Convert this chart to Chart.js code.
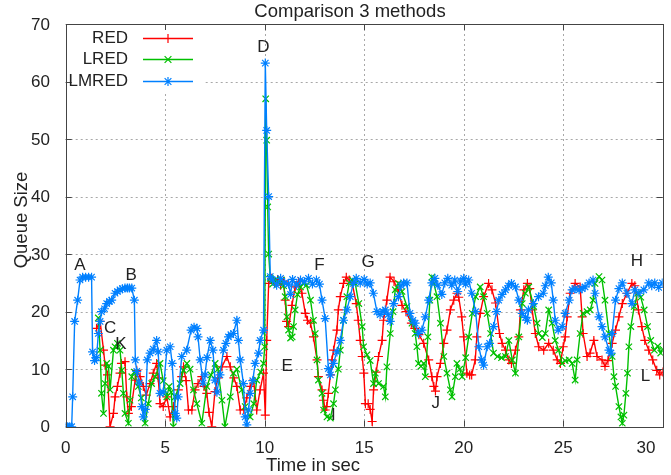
<!DOCTYPE html>
<html>
<head>
<meta charset="utf-8">
<title>Comparison 3 methods</title>
<script src="https://cdn.jsdelivr.net/npm/chart.js@4/dist/chart.umd.min.js"></script>
<style>
  html, body { margin: 0; padding: 0; background: #fff; }
  #wrap { width: 671px; height: 475px; }
</style>
</head>
<body>
<div id="wrap"><canvas id="queueChart" width="671" height="475"></canvas></div>
<script>
// axis ticks
const xTicks = [0, 5, 10, 15, 20, 25, 30];
const yTicks = [0, 10, 20, 30, 40, 50, 60, 70];

// RED
const redTime = [
  1.55, 1.73, 1.9, 1.98, 2.1, 2.23, 2.4, 2.48, 2.6, 2.73,
  2.8, 2.98, 3.07, 3.15, 3.3, 3.49, 3.57, 3.74, 3.9, 4.05,
  4.24, 4.4, 4.57, 4.65, 4.74, 4.9, 5.08, 5.25, 5.41, 5.66,
  5.83, 5.92, 6.05, 6.17, 6.34, 6.5, 6.65, 6.84, 6.95, 7.09,
  7.2, 7.34, 7.5, 7.65, 7.85, 8.1, 8.27, 8.45, 8.6, 8.77,
  8.95, 9.1, 9.27, 9.44, 9.6, 9.77, 9.94, 10.03, 10.1, 10.2,
  10.35, 10.5, 10.65, 10.8, 10.95, 11.03, 11.1, 11.2, 11.37, 11.53,
  11.7, 11.87, 12.04, 12.15, 12.3, 12.45, 12.63, 12.7, 12.88, 12.96,
  13.04, 13.12, 13.2, 13.3, 13.38, 13.46, 13.63, 13.7, 13.8, 13.96,
  14.1, 14.25, 14.4, 14.6, 14.7, 14.8, 14.9, 14.98, 15.06, 15.2,
  15.3, 15.4, 15.47, 15.6, 15.72, 15.9, 15.97, 16.14, 16.3, 16.5,
  16.7, 16.9, 17.1, 17.37, 17.54, 17.75, 17.99, 18.24, 18.4, 18.5,
  18.58, 18.66, 18.83, 19.0, 19.16, 19.33, 19.5, 19.66, 19.75, 19.9,
  20.0, 20.16, 20.3, 20.4, 20.58, 20.66, 20.83, 21.0, 21.25, 21.42,
  21.6, 21.8, 21.93, 22.1, 22.27, 22.4, 22.6, 22.77, 22.85, 23.02,
  23.2, 23.32, 23.44, 23.6, 23.77, 24.02, 24.27, 24.5, 24.7, 24.86,
  25.0, 25.1, 25.2, 25.35, 25.6, 25.85, 25.95, 26.0, 26.2, 26.35,
  26.54, 26.7, 26.95, 27.1, 27.25, 27.46, 27.63, 27.8, 27.97, 28.2,
  28.45, 28.6, 28.78, 28.95, 29.1, 29.3, 29.5, 29.7, 29.85, 30.0
];
const redQueue = [
  17.1, 18.3, 13.3, 10.7, 9, 0, 2.3, 5.2, 7, 9.3,
  11, 11.3, 5.2, 2.3, 3.5, 8.1, 9.8, 8.7, 7, 5.5,
  7.5, 9.3, 11, 8.5, 4, 3.5, 5.2, 1.7, 3.5, 6.4,
  8.7, 10.4, 8, 2.9, 2.9, 6.4, 7.5, 8.7, 7, 5.8,
  2.5, 0, 6.1, 8.5, 10.4, 12.2, 10.4, 8.5, 7, 2.9,
  3, 5, 7, 8.1, 2.9, 6.4, 9.3, 2, 15, 24.9,
  25.8, 25, 25.6, 24.6, 25.3, 22, 18.3, 17.4, 21.1, 24.3,
  25.2, 23.2, 19.7, 18.5, 18, 15.6, 11.6, 8.7, 6.4, 4.6,
  2.9, 3.5, 5.8, 9, 11.6, 13.3, 16.8, 20.3, 22.6, 24.9,
  26, 25.5, 24.9, 21.4, 18.5, 15, 12.2, 9.3, 4, 4,
  3, 0.9, 6.4, 9.5, 12.2, 15, 18.5, 22, 26, 25.2,
  23.8, 21.1, 20, 18, 17.1, 16, 14.5, 11.6, 8.7, 7,
  6.2, 8.7, 11, 14.5, 16.8, 20.3, 22, 23.2, 22.5, 19.1,
  15.6, 9.3, 9, 9, 11.6, 15.6, 19.7, 22.6, 24.9, 23.8,
  21.5, 16.2, 14.5, 13.3, 11.6, 11, 13.3, 15.6, 20.3, 23.8,
  24.9, 24, 20.3, 16.2, 13.9, 13.3, 14.5, 13.3, 11.6, 11,
  13.9, 15.6, 19.1, 23.2, 24.9, 24.3, 19.1, 16.2, 12.2, 12.8,
  15, 12.2, 11.6, 10.5, 11.5, 14.5, 16.8, 19.1, 21.4, 23.2,
  24.9, 24.5, 20.3, 17.4, 15, 13.3, 11.6, 9.8, 9, 9.5
];

// LRED
const lredTime = [
  1.64, 1.73, 1.8, 1.9, 1.98, 2.06, 2.15, 2.23, 2.4, 2.48,
  2.6, 2.73, 2.82, 2.9, 2.98, 3.15, 3.23, 3.32, 3.45, 3.65,
  3.8, 3.99, 4.15, 4.32, 4.5, 4.74, 4.9, 5.08, 5.2, 5.3,
  5.41, 5.5, 5.75, 5.92, 6.09, 6.25, 6.42, 6.59, 6.84, 7.09,
  7.3, 7.51, 7.65, 7.85, 8.0, 8.27, 8.43, 8.6, 8.85, 9.02,
  9.27, 9.45, 9.6, 9.8, 9.94, 10.0, 10.05, 10.1, 10.15, 10.2,
  10.28, 10.4, 10.55, 10.7, 10.85, 10.95, 11.03, 11.12, 11.2, 11.3,
  11.38, 11.45, 11.53, 11.65, 11.8, 11.95, 12.1, 12.3, 12.45, 12.54,
  12.63, 12.7, 12.88, 12.96, 13.13, 13.3, 13.46, 13.55, 13.7, 13.8,
  13.96, 14.13, 14.25, 14.4, 14.55, 14.73, 14.9, 14.97, 15.14, 15.3,
  15.47, 15.56, 15.72, 15.97, 16.06, 16.14, 16.31, 16.45, 16.56, 16.72,
  16.9, 17.15, 17.4, 17.56, 17.65, 17.73, 17.85, 17.99, 18.07, 18.2,
  18.3, 18.4, 18.5, 18.66, 18.83, 19.0, 19.16, 19.33, 19.41, 19.58,
  19.66, 19.8, 19.92, 20.1, 20.25, 20.43, 20.6, 20.83, 21.0, 21.18,
  21.35, 21.5, 21.7, 21.9, 22.1, 22.27, 22.44, 22.6, 22.77, 22.94,
  23.1, 23.27, 23.52, 23.69, 23.77, 23.95, 24.1, 24.27, 24.44, 24.6,
  24.77, 24.95, 25.1, 25.3, 25.45, 25.6, 25.7, 25.85, 26.0, 26.2,
  26.36, 26.5, 26.6, 26.8, 26.95, 27.1, 27.3, 27.46, 27.55, 27.63,
  27.8, 27.9, 27.97, 28.05, 28.15, 28.23, 28.3, 28.4, 28.57, 28.74,
  28.9, 29.07, 29.24, 29.4, 29.58, 29.75, 29.9, 30.0
];
const lredQueue = [
  18.9, 13.3, 5.8, 2.3, 7.5, 11, 10.5, 6.4, 13.3, 13.9,
  14.5, 13.3, 9.8, 5.8, 2.3, 0.6, 4.6, 8.7, 9.5, 7,
  5, 0.6, 4, 7.5, 8.7, 11, 8, 5.2, 7, 6,
  0, 5.2, 7.5, 9.8, 11, 10, 6.4, 4, 0.6, 7,
  9, 11, 10, 4.6, 0, 5.2, 9.3, 10, 6.4, 3.5,
  1.7, 4, 8.1, 9.5, 11, 13.9, 57, 49.8, 38.2, 30,
  25.8, 24.8, 25.6, 25, 25.5, 24.5, 22.6, 19.1, 16.8, 15.4,
  15.6, 17.4, 20.3, 23, 24.3, 25, 24.6, 22, 18.5, 16.2,
  11.6, 8.1, 5.8, 2.9, 1.7, 1.5, 4, 6.4, 10, 13.3,
  18.5, 22.6, 25, 25.5, 24.9, 21.4, 17.4, 13.9, 12.5, 11.5,
  7.5, 9.3, 7.5, 7, 5.2, 10.4, 16.2, 20, 23.8, 24.9,
  23.5, 20.9, 18, 16.2, 13.9, 11, 10.5, 11, 8.7, 15.6,
  22, 26, 24.9, 22.6, 18, 12.2, 9.3, 6.4, 5.2, 8.7,
  11, 10, 8.7, 12, 15.6, 19.7, 22.6, 24.3, 22.6, 19.7,
  16.2, 12.8, 12.2, 12, 12.2, 15, 11.6, 9.3, 15.6, 21.4,
  23.2, 24.3, 20.9, 18, 16.2, 15.5, 16.2, 20.3, 18, 15,
  13.3, 11, 11.5, 11.6, 11, 8.1, 11.6, 16.2, 19.7, 20,
  20.3, 22, 24.9, 26.1, 25.5, 22, 16.2, 12.2, 8.7, 7,
  3.5, 1.7, 0.6, 2, 5.8, 9.3, 13.9, 17.4, 20.9, 23.2,
  22.5, 20.3, 17.4, 15, 13.3, 14, 12.8, 13.5
];

// LMRED
const lmredTime = [
  0, 0.1, 0.2, 0.3, 0.35, 0.45, 0.6, 0.72, 0.85, 1.0,
  1.15, 1.3, 1.35, 1.45, 1.55, 1.64, 1.73, 1.8, 1.95, 2.06,
  2.2, 2.31, 2.48, 2.6, 2.73, 2.85, 2.98, 3.1, 3.2, 3.32,
  3.45, 3.5, 3.57, 3.7, 3.82, 3.9, 4.0, 4.1, 4.24, 4.4,
  4.57, 4.65, 4.74, 4.9, 5.08, 5.25, 5.35, 5.5, 5.58, 5.65,
  5.83, 6.08, 6.3, 6.45, 6.6, 6.65, 6.76, 6.9, 7.0, 7.1,
  7.26, 7.4, 7.5, 7.6, 7.75, 7.93, 8.05, 8.18, 8.3, 8.43,
  8.6, 8.68, 8.77, 8.93, 9.02, 9.1, 9.19, 9.27, 9.4, 9.52,
  9.69, 9.77, 9.94, 10.03, 10.1, 10.2, 10.28, 10.4, 10.6, 10.8,
  11.0, 11.2, 11.3, 11.4, 11.6, 11.8, 12.0, 12.2, 12.4, 12.6,
  12.75, 12.88, 13.04, 13.2, 13.3, 13.45, 13.63, 13.8, 13.96, 14.13,
  14.3, 14.45, 14.6, 14.8, 15.0, 15.15, 15.3, 15.46, 15.64, 15.8,
  15.95, 16.06, 16.2, 16.31, 16.48, 16.72, 16.85, 16.98, 17.15, 17.3,
  17.45, 17.56, 17.73, 17.9, 18.07, 18.24, 18.4, 18.55, 18.7, 18.9,
  19.05, 19.2, 19.4, 19.55, 19.7, 19.85, 20.0, 20.1, 20.25, 20.4,
  20.6, 20.76, 20.9, 21.0, 21.18, 21.3, 21.5, 21.65, 21.76, 21.93,
  22.1, 22.25, 22.4, 22.6, 22.77, 22.94, 23.1, 23.2, 23.25, 23.5,
  23.76, 24.0, 24.1, 24.25, 24.4, 24.5, 24.6, 24.75, 24.95, 25.1,
  25.3, 25.45, 25.6, 25.8, 25.95, 26.1, 26.3, 26.5, 26.6, 26.8,
  26.95, 27.1, 27.3, 27.4, 27.46, 27.63, 27.8, 27.97, 28.2, 28.45,
  28.6, 28.8, 29.05, 29.3, 29.45, 29.6, 29.8, 29.98
];
const lmredQueue = [
  0, 0, 0, 0, 5.2, 18.3, 22, 25.5, 26, 26,
  26, 26, 13, 11.5, 12, 16.2, 18.3, 20, 20.5, 21.4,
  21.8, 22, 23.2, 23.5, 23.8, 24, 24.1, 24.1, 24.1, 24.1,
  22, 11.6, 9.6, 7.6, 3.5, 1.7, 3, 11.6, 12.8, 13.5,
  15, 13, 5.8, 6, 13.3, 13.9, 11, 2.3, 1.5, 5.2,
  12.2, 13.3, 16.8, 17.3, 17.1, 15.6, 11.6, 7.6, 9, 12,
  15, 13.3, 8.1, 6, 9, 13.3, 14.5, 15.6, 16, 16.2,
  18.5, 15, 11.6, 7.5, 1.7, 0.3, 2.9, 5.8, 8, 11,
  12.8, 15, 16.8, 63.2, 51.5, 40, 26.1, 25.5, 24.6, 25.8,
  25, 24.8, 23, 25.6, 24.6, 25.5, 25.2, 25.8, 24.8, 25.5,
  24.8, 22, 18.8, 10.1, 9, 11, 13, 15, 18.5, 20.3,
  22.6, 24.9, 25.8, 25, 25.6, 24.8, 25, 23.2, 20, 19.5,
  20, 20.3, 19.5, 18.3, 21.4, 22.6, 24.5, 25, 25, 19.7,
  18.5, 18, 16.2, 16.8, 19.1, 22, 25, 25.8, 24.6, 23,
  25, 25.8, 24.6, 25.5, 23.5, 25.3, 25.8, 24.8, 25.5, 23.2,
  20, 13.9, 11.6, 10.7, 13.9, 14.5, 17.4, 20, 22, 23,
  23.8, 24.5, 24.9, 24.3, 22, 19.7, 19, 18.5, 20.3, 21.4,
  22.6, 23.2, 24.5, 26, 25, 22, 18.5, 16.8, 17.4, 19.7,
  22, 23.8, 24, 23.8, 24, 24.3, 25, 25.5, 23.2, 19.1,
  17.4, 15.6, 13.3, 12.8, 16.2, 22, 24, 25, 23.2, 21.4,
  23.8, 23.2, 23.8, 25, 24.5, 25, 24.2, 25
];

// letters written on the plot
const noteText  = ['A', 'B', 'C', 'K', 'D', 'E', 'F', 'G', 'H', 'I', 'J', 'L'];
const noteTime  = [0.72, 3.29, 2.23, 2.78, 9.93, 11.13, 12.75, 15.2, 28.7, 13.45, 18.6, 29.14];
const noteQueue = [28.1, 26.4, 17.1, 14.3, 66, 10.5, 28.1, 28.6, 28.8, 2, 4.1, 8.8];

const FAMILY = '"Liberation Sans", Arial, sans-serif';
const FONT = '17px ' + FAMILY;
const TITLE_FONT = '18.5px ' + FAMILY;
const TEXT = '#222';

const toPoints = (ts, qs) => ts.map((t, i) => ({ x: t, y: qs[i] }));

const series = [
  { label: 'RED',   time: redTime,   queue: redQueue,   color: '#ff0000', style: 'cross',    order: 3 },
  { label: 'LRED',  time: lredTime,  queue: lredQueue,  color: '#00c000', style: 'crossRot', order: 2 },
  { label: 'LMRED', time: lmredTime, queue: lmredQueue, color: '#0080ff', style: 'star',     order: 1 }
];

// gnuplot point glyphs for the key: + , x , *
function keyMarker(ctx, style, cx, cy, r) {
  const d = r * 0.75;
  ctx.beginPath();
  if (style !== 'crossRot') {
    ctx.moveTo(cx - r, cy); ctx.lineTo(cx + r, cy);
    ctx.moveTo(cx, cy - r); ctx.lineTo(cx, cy + r);
  }
  if (style !== 'cross') {
    ctx.moveTo(cx - d, cy - d); ctx.lineTo(cx + d, cy + d);
    ctx.moveTo(cx - d, cy + d); ctx.lineTo(cx + d, cy - d);
  }
  ctx.stroke();
}

// gnuplot-ish frame: dotted grid, inward ticks, key box, labels
const gnuplotFrame = {
  id: 'gnuplotFrame',
  beforeDatasetsDraw(chart) {
    const { ctx, chartArea: { left, top, right, bottom }, scales: { x, y } } = chart;
    ctx.save();
    ctx.strokeStyle = '#a8a8a8';
    ctx.lineWidth = 1;
    ctx.setLineDash([2, 3]);
    xTicks.forEach(v => {
      const px = Math.round(x.getPixelForValue(v)) + 0.5;
      if (px <= left + 1 || px >= right - 1) return;
      ctx.beginPath(); ctx.moveTo(px, top); ctx.lineTo(px, bottom); ctx.stroke();
    });
    yTicks.forEach(v => {
      const py = Math.round(y.getPixelForValue(v)) + 0.5;
      if (py <= top + 1 || py >= bottom - 1) return;
      ctx.beginPath(); ctx.moveTo(left, py); ctx.lineTo(right, py); ctx.stroke();
    });
    ctx.setLineDash([]);
    // key box is opaque
    ctx.fillStyle = '#fff';
    ctx.fillRect(left + 1, top + 1, 203 - left, 90 - top);
    ctx.restore();
  },
  afterDatasetsDraw(chart) {
    const { ctx, chartArea: { left, top, right, bottom }, scales: { x, y } } = chart;
    ctx.save();
    ctx.setLineDash([]);
    // border
    ctx.strokeStyle = '#444';
    ctx.lineWidth = 1;
    ctx.strokeRect(Math.round(left) + 0.5, Math.round(top) + 0.5,
                   Math.round(right - left), Math.round(bottom - top));
    // inward ticks on all four sides
    const tl = 6;
    ctx.beginPath();
    xTicks.forEach(v => {
      const px = Math.round(x.getPixelForValue(v)) + 0.5;
      ctx.moveTo(px, bottom); ctx.lineTo(px, bottom - tl);
      ctx.moveTo(px, top); ctx.lineTo(px, top + tl);
    });
    yTicks.forEach(v => {
      const py = Math.round(y.getPixelForValue(v)) + 0.5;
      ctx.moveTo(left, py); ctx.lineTo(left + tl, py);
      ctx.moveTo(right, py); ctx.lineTo(right - tl, py);
    });
    ctx.stroke();

    ctx.fillStyle = TEXT;
    ctx.font = FONT;
    // tick labels
    ctx.textAlign = 'right';
    ctx.textBaseline = 'middle';
    yTicks.forEach(v => ctx.fillText(String(v), 50, y.getPixelForValue(v) + 1));
    ctx.textAlign = 'center';
    xTicks.forEach(v => {
      let px = x.getPixelForValue(v);
      if (v === 30) px = 646;   // gnuplot pulls the last label in
      ctx.fillText(String(v), px, 448);
    });

    // letters
    noteText.forEach((s, i) => {
      ctx.fillText(s, x.getPixelForValue(noteTime[i]), y.getPixelForValue(noteQueue[i]));
    });

    // titles
    ctx.font = TITLE_FONT;
    ctx.fillText('Comparison 3 methods', 350, 12);
    ctx.fillText('Time in sec', 313, 466);
    ctx.save();
    ctx.translate(22, 220);
    ctx.rotate(-Math.PI / 2);
    ctx.fillText('Queue Size', 0, 0);
    ctx.restore();

    // key
    ctx.font = FONT;
    series.forEach((s, i) => {
      const ky = Math.round(38 + i * 21.3) + 0.5;
      ctx.fillStyle = TEXT;
      ctx.textAlign = 'right';
      ctx.fillText(s.label, 128, ky);
      ctx.strokeStyle = s.color;
      ctx.lineWidth = 1.4;
      ctx.beginPath();
      ctx.moveTo(143, ky);
      ctx.lineTo(193, ky);
      ctx.stroke();
      ctx.lineWidth = 1.2;
      keyMarker(ctx, s.style, 168, ky, 4.5);
    });
    ctx.restore();
  }
};

const ctx = document.getElementById('queueChart');
new Chart(ctx, {
  type: 'scatter',
  data: {
    datasets: series.map(s => ({
      label: s.label,
      data: toPoints(s.time, s.queue),
      showLine: true,
      borderColor: s.color,
      backgroundColor: s.color,
      borderWidth: 1.4,
      pointStyle: s.style,
      pointRadius: 4.5,
      pointBorderWidth: 1.2,
      pointBorderColor: s.color,
      tension: 0,
      order: s.order
    }))
  },
  options: {
    responsive: false,
    animation: false,
    devicePixelRatio: 1,
    layout: { padding: { top: 24, right: 8.3, left: 0, bottom: 0 } },
    plugins: {
      legend: { display: false },
      title: { display: false },
      tooltip: { enabled: false }
    },
    scales: {
      x: {
        type: 'linear', min: 0, max: 30,
        ticks: { display: false, stepSize: 5 },
        grid: { display: false },
        border: { display: false },
        afterFit: s => { s.height = 475 - 426.7; s.paddingLeft = 0; s.paddingRight = 0; }
      },
      y: {
        type: 'linear', min: 0, max: 70,
        ticks: { display: false, stepSize: 10 },
        grid: { display: false },
        border: { display: false },
        afterFit: s => { s.width = 65.7; s.paddingTop = 0; s.paddingBottom = 0; }
      }
    }
  },
  plugins: [gnuplotFrame]
});
</script>
</body>
</html>
